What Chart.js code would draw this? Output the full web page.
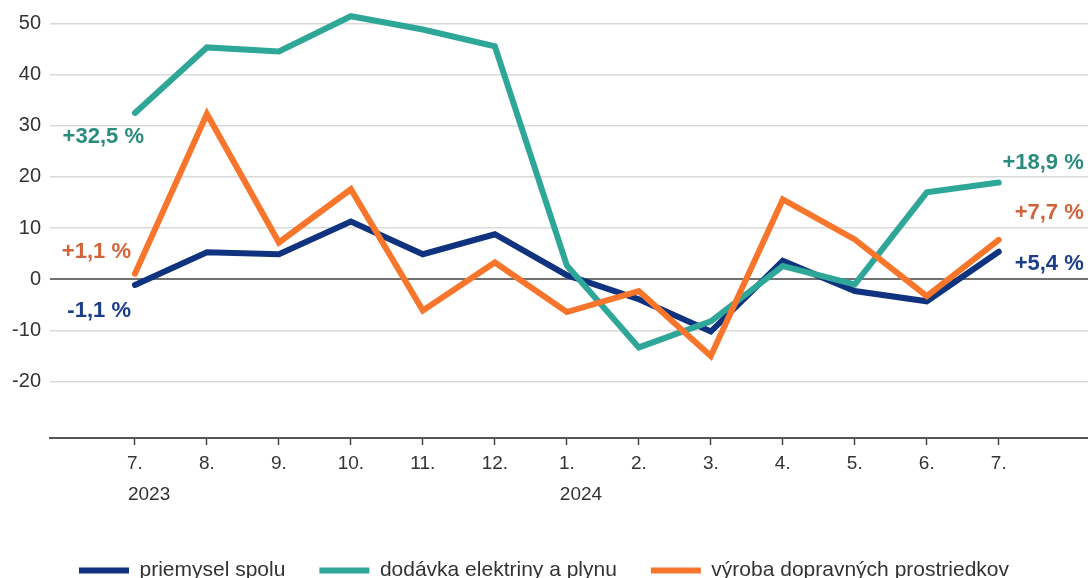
<!DOCTYPE html>
<html>
<head>
<meta charset="utf-8">
<script src="https://cdn.jsdelivr.net/npm/chart.js@4"></script>
<style>
  html, body { margin: 0; padding: 0; overflow: hidden; background: #fff; }
  #wrap { width: 1088px; height: 591px; }
</style>
</head>
<body>
<div id="wrap"><canvas id="chart" width="1088" height="591"></canvas></div>
<script>
// months on the x axis, years written under the first month of each year
const months = ['7.', '8.', '9.', '10.', '11.', '12.', '1.', '2.', '3.', '4.', '5.', '6.', '7.'];
const years = ['2023', '', '', '', '', '', '2024', '', '', '', '', '', ''];
const yTicks = [-20, -10, 0, 10, 20, 30, 40, 50];

// year-on-year change in %
const priemysel = [-1.1, 5.3, 4.9, 11.3, 4.9, 8.8, 0.8, -3.9, -10.2, 3.6, -2.3, -4.3, 5.4];
const dodavka = [32.5, 45.3, 44.5, 51.4, 48.8, 45.5, 2.7, -13.3, -8.2, 2.6, -1.0, 17.0, 18.9];
const vyroba = [1.1, 32.3, 7.2, 17.6, -6.1, 3.3, -6.4, -2.3, -15.0, 15.6, 7.8, -3.3, 7.7];

const seriesNames = ['priemysel spolu', 'dodávka elektriny a plynu', 'výroba dopravných prostriedkov'];
const firstLabels = ['-1,1 %', '+32,5 %', '+1,1 %'];
const lastLabels = ['+5,4 %', '+18,9 %', '+7,7 %'];

const lineColors = ['#0f337f', '#2ea698', '#f7762b'];
const textColors = ['#1b3d8a', '#2b8c7e', '#d3633a'];
const FONT = '"Liberation Sans", Arial, sans-serif';

function pts(arr) {
    return arr.map((v, i) => ({ x: i, y: v }));
}

// text labels at both ends of each line + year labels
const labelsPlugin = {
    id: 'endLabels',
    afterDraw(chart) {
        const ctx = chart.ctx;
        const xs = chart.scales.x;
        ctx.save();
        // years
        ctx.font = '19px ' + FONT;
        ctx.fillStyle = '#333';
        ctx.textAlign = 'left';
        ctx.textBaseline = 'middle';
        years.forEach((y, i) => {
            if (y) ctx.fillText(y, xs.getPixelForValue(i) - 7, 495);
        });

        // offsets of the end labels from their points
        const firstOff = [[-4, 26], [9, 24], [-4, -22]];
        const lastOff = [[85, 12], [85, -20], [85, -27]];
        ctx.font = 'bold 22px ' + FONT;
        ctx.textAlign = 'right';
        chart.data.datasets.forEach((ds, d) => {
            const meta = chart.getDatasetMeta(d);
            const p0 = meta.data[0];
            const pn = meta.data[meta.data.length - 1];
            ctx.fillStyle = textColors[d];
            ctx.fillText(firstLabels[d], p0.x + firstOff[d][0], p0.y + firstOff[d][1]);
            ctx.fillText(lastLabels[d], pn.x + lastOff[d][0], pn.y + lastOff[d][1]);
        });
        ctx.restore();
    }
};

const datasets = [priemysel, dodavka, vyroba].map((arr, i) => ({
    label: seriesNames[i],
    data: pts(arr),
    borderColor: lineColors[i],
    backgroundColor: lineColors[i],
    borderWidth: 6,
    borderCapStyle: 'round',
    borderJoinStyle: 'miter',
    pointRadius: 0,
    tension: 0,
    order: 3 - i
}));

new Chart(document.getElementById('chart'), {
    type: 'line',
    data: { datasets: datasets },
    options: {
        responsive: false,
        animation: false,
        layout: { padding: { top: 8, left: 0, right: 0, bottom: 0 } },
        plugins: {
            tooltip: { enabled: false },
            legend: {
                position: 'bottom',
                labels: {
                    boxWidth: 50,
                    boxHeight: 6,
                    useBorderRadius: true,
                    borderRadius: 3,
                    padding: 34,
                    color: '#333',
                    font: { family: FONT, size: 21 },
                    generateLabels(chart) {
                        return chart.data.datasets.map((ds, i) => ({
                            text: ds.label,
                            fillStyle: ds.borderColor,
                            strokeStyle: ds.borderColor,
                            lineWidth: 0,
                            fontColor: '#333',
                            datasetIndex: i
                        }));
                    }
                }
            }
        },
        scales: {
            x: {
                type: 'linear',
                min: -1.18,
                max: 13.24,
                afterBuildTicks(scale) {
                    scale.ticks = months.map((m, i) => ({ value: i }));
                },
                afterFit(scale) {
                    scale.height = 88;
                    scale.paddingLeft = 0;
                    scale.paddingRight = 0;
                },
                ticks: {
                    autoSkip: false,
                    maxRotation: 0,
                    padding: 7,
                    color: '#333',
                    font: { family: FONT, size: 19 },
                    callback: (v) => months[v]
                },
                grid: {
                    drawOnChartArea: false,
                    drawTicks: true,
                    tickLength: 7,
                    tickWidth: 1.5,
                    tickColor: '#444'
                },
                border: { display: true, color: '#555', width: 2 }
            },
            y: {
                min: -31,
                max: 53,
                afterBuildTicks(scale) {
                    scale.ticks = yTicks.map(v => ({ value: v }));
                },
                afterFit(scale) {
                    scale.width = 50;
                    scale.paddingTop = 0;
                    scale.paddingBottom = 0;
                },
                ticks: {
                    padding: 9,
                    color: '#333',
                    font: { family: FONT, size: 20 }
                },
                grid: {
                    drawTicks: false,
                    color: (c) => c.tick && c.tick.value === 0 ? '#707070' : '#d9d9d9',
                    lineWidth: (c) => c.tick && c.tick.value === 0 ? 2 : 1.5
                },
                border: { display: false }
            }
        }
    },
    plugins: [labelsPlugin]
});
</script>
</body>
</html>
